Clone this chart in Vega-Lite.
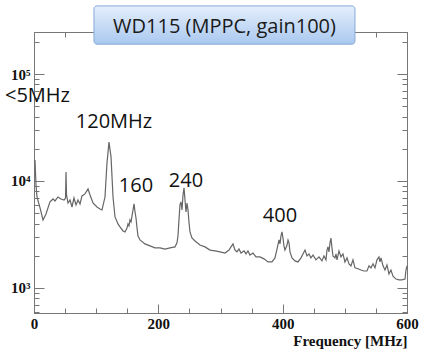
{
  "$schema": "https://vega.github.io/schema/vega-lite/v6.json",
  "autosize": "none",
  "width": 373,
  "height": 281,
  "padding": {"left": 34, "top": 32, "right": 14, "bottom": 38},
  "background": "white",
  "config": {"view": {"stroke": "#777", "strokeWidth": 1}},
  "datasets": {
    "spectrum": [
      {"f": 1.6, "a": 15700}, {"f": 3.2, "a": 9180}, {"f": 4.8, "a": 7080}, {"f": 9.7, "a": 5600},
      {"f": 14.5, "a": 4320}, {"f": 19.3, "a": 4920}, {"f": 25.7, "a": 6370}, {"f": 30.6, "a": 6790},
      {"f": 33.8, "a": 6500}, {"f": 38.6, "a": 7080}, {"f": 43.4, "a": 6790}, {"f": 48.3, "a": 6640},
      {"f": 50.7, "a": 6930}, {"f": 51.5, "a": 12100}, {"f": 52.3, "a": 7400}, {"f": 54.7, "a": 6220},
      {"f": 57.9, "a": 6640}, {"f": 61.1, "a": 5710}, {"f": 64.3, "a": 6930}, {"f": 67.6, "a": 5970},
      {"f": 70.8, "a": 6640}, {"f": 74.0, "a": 6100}, {"f": 77.2, "a": 7240}, {"f": 82.0, "a": 7570},
      {"f": 86.9, "a": 8410}, {"f": 90.1, "a": 7400}, {"f": 94.9, "a": 6220}, {"f": 101.3, "a": 5710},
      {"f": 106.2, "a": 5470}, {"f": 109.4, "a": 5360}, {"f": 114.2, "a": 7080}, {"f": 117.4, "a": 14700},
      {"f": 120.6, "a": 23100}, {"f": 123.9, "a": 16800}, {"f": 127.1, "a": 7080}, {"f": 130.3, "a": 4610},
      {"f": 135.1, "a": 3970}, {"f": 138.3, "a": 3720}, {"f": 143.2, "a": 3410}, {"f": 146.4, "a": 3340},
      {"f": 149.6, "a": 3640}, {"f": 151.2, "a": 3970}, {"f": 152.8, "a": 3800}, {"f": 154.4, "a": 4330},
      {"f": 156.1, "a": 4140}, {"f": 159.3, "a": 5360}, {"f": 160.9, "a": 6100}, {"f": 162.5, "a": 5130},
      {"f": 164.1, "a": 4510}, {"f": 165.7, "a": 3640}, {"f": 167.3, "a": 3060}, {"f": 170.5, "a": 2810},
      {"f": 178.5, "a": 2580}, {"f": 186.6, "a": 2470}, {"f": 194.6, "a": 2370}, {"f": 202.7, "a": 2370},
      {"f": 210.7, "a": 2310}, {"f": 218.8, "a": 2370}, {"f": 226.8, "a": 2420}, {"f": 230.0, "a": 2640},
      {"f": 231.6, "a": 3060}, {"f": 233.2, "a": 4330}, {"f": 234.8, "a": 5970}, {"f": 236.4, "a": 6370},
      {"f": 238.1, "a": 5360}, {"f": 239.7, "a": 7400}, {"f": 241.3, "a": 8610}, {"f": 242.9, "a": 6640},
      {"f": 244.5, "a": 5130}, {"f": 246.1, "a": 6220}, {"f": 247.7, "a": 5360}, {"f": 249.3, "a": 4140},
      {"f": 250.9, "a": 3340}, {"f": 254.1, "a": 2930}, {"f": 259.0, "a": 2750}, {"f": 267.0, "a": 2520},
      {"f": 275.1, "a": 2420}, {"f": 283.1, "a": 2260}, {"f": 291.2, "a": 2220}, {"f": 299.2, "a": 2170},
      {"f": 307.2, "a": 2120}, {"f": 313.7, "a": 2260}, {"f": 316.9, "a": 2420}, {"f": 320.1, "a": 2580},
      {"f": 323.3, "a": 2260}, {"f": 326.5, "a": 2170}, {"f": 329.7, "a": 2310}, {"f": 333.0, "a": 2120},
      {"f": 337.8, "a": 2220}, {"f": 341.0, "a": 2080}, {"f": 344.2, "a": 2220}, {"f": 347.4, "a": 2030},
      {"f": 352.3, "a": 2120}, {"f": 357.1, "a": 1950}, {"f": 363.5, "a": 1950}, {"f": 370.0, "a": 1870},
      {"f": 376.4, "a": 1750}, {"f": 382.8, "a": 1750}, {"f": 387.6, "a": 1910}, {"f": 390.9, "a": 2310},
      {"f": 394.1, "a": 2810}, {"f": 395.7, "a": 2580}, {"f": 397.3, "a": 3060}, {"f": 398.9, "a": 3340},
      {"f": 400.5, "a": 2930}, {"f": 402.1, "a": 2470}, {"f": 403.7, "a": 2260}, {"f": 405.3, "a": 2370},
      {"f": 407.0, "a": 2520}, {"f": 408.6, "a": 2810}, {"f": 410.2, "a": 2640}, {"f": 411.8, "a": 2170},
      {"f": 415.0, "a": 1910}, {"f": 419.8, "a": 1790}, {"f": 424.6, "a": 1750}, {"f": 429.5, "a": 1910},
      {"f": 432.7, "a": 2080}, {"f": 435.9, "a": 2260}, {"f": 439.1, "a": 1990}, {"f": 442.3, "a": 2080},
      {"f": 445.5, "a": 1910}, {"f": 448.8, "a": 2030}, {"f": 453.6, "a": 1830}, {"f": 458.4, "a": 1950},
      {"f": 463.2, "a": 1790}, {"f": 466.4, "a": 1990}, {"f": 469.7, "a": 1830}, {"f": 471.3, "a": 2260},
      {"f": 472.9, "a": 2420}, {"f": 474.5, "a": 2170}, {"f": 476.1, "a": 2640}, {"f": 477.7, "a": 2930},
      {"f": 479.3, "a": 2370}, {"f": 480.9, "a": 1990}, {"f": 484.2, "a": 1910}, {"f": 485.8, "a": 2080},
      {"f": 487.4, "a": 1830}, {"f": 490.6, "a": 2220}, {"f": 493.8, "a": 1950}, {"f": 497.0, "a": 2080},
      {"f": 500.2, "a": 1750}, {"f": 503.5, "a": 1910}, {"f": 506.7, "a": 1680}, {"f": 509.9, "a": 1610},
      {"f": 513.1, "a": 1830}, {"f": 516.3, "a": 1540}, {"f": 521.2, "a": 1510}, {"f": 526.0, "a": 1470},
      {"f": 530.8, "a": 1440}, {"f": 535.6, "a": 1440}, {"f": 538.9, "a": 1610}, {"f": 542.1, "a": 1540},
      {"f": 545.3, "a": 1680}, {"f": 548.5, "a": 1540}, {"f": 551.7, "a": 1830}, {"f": 554.9, "a": 1950},
      {"f": 556.5, "a": 1750}, {"f": 558.2, "a": 1910}, {"f": 561.4, "a": 1610}, {"f": 564.6, "a": 1470},
      {"f": 567.8, "a": 1640}, {"f": 571.0, "a": 1350}, {"f": 574.2, "a": 1470}, {"f": 577.5, "a": 1290},
      {"f": 582.3, "a": 1210}, {"f": 587.1, "a": 1190}, {"f": 591.9, "a": 1190}, {"f": 596.8, "a": 1210},
      {"f": 598.4, "a": 1470}, {"f": 600, "a": 1610}
    ],
    "labels": [
      {"f": 5.6, "a": 62200, "t": "<5MHz"},
      {"f": 128.7, "a": 35600, "t": "120MHz"},
      {"f": 164, "a": 8980, "t": "160"},
      {"f": 244.5, "a": 10000, "t": "240"},
      {"f": 395.7, "a": 4710, "t": "400"}
    ],
    "box": [
      {"f1": 96.5, "f2": 516.3, "a1": 433000, "a2": 190000, "fc": 306.4, "ac": 278000, "t": "WD115 (MPPC, gain100)"}
    ]
  },
  "resolve": {"axis": {"x": "independent", "y": "independent"}},
  "layer": [
    {
      "data": {"name": "spectrum"},
      "mark": {"type": "line", "color": "#666", "strokeWidth": 1.2, "interpolate": "linear"},
      "encoding": {
        "x": {
          "field": "f", "type": "quantitative",
          "scale": {"domain": [0, 600], "nice": false, "zero": false},
          "axis": {
            "orient": "bottom",
            "values": [0, 50, 100, 150, 200, 250, 300, 350, 400, 450, 500, 550, 600],
            "labelExpr": "datum.value % 200 == 0 ? datum.value : ''",
            "tickSize": {"condition": {"test": "datum.value % 200 == 0", "value": -9}, "value": -5},
            "tickColor": "#777", "domainColor": "#777",
            "labelFont": "Liberation Serif", "labelFontWeight": "bold", "labelFontSize": 15, "labelColor": "#111",
            "labelPadding": 12, "labelFlush": false, "labelOverlap": false,
            "grid": false,
            "title": "Frequency [MHz]", "titleFont": "Liberation Serif", "titleFontWeight": "bold",
            "titleFontSize": 15, "titleColor": "#111", "titleAnchor": "end", "titlePadding": -2
          }
        },
        "y": {
          "field": "a", "type": "quantitative",
          "scale": {"type": "log", "domain": [583, 247000], "nice": false},
          "axis": {
            "orient": "left",
            "values": [600, 700, 800, 900, 1000, 2000, 3000, 4000, 5000, 6000, 7000, 8000, 9000, 10000, 20000, 30000, 40000, 50000, 60000, 70000, 80000, 90000, 100000, 200000],
            "labelExpr": "datum.value == 1000 ? '10³' : datum.value == 10000 ? '10⁴' : datum.value == 100000 ? '10⁵' : ''",
            "tickSize": {"condition": {"test": "datum.value == 1000 || datum.value == 10000 || datum.value == 100000", "value": -10}, "value": -5},
            "tickColor": "#777", "domainColor": "#777",
            "labelFont": "Liberation Serif", "labelFontWeight": "bold", "labelFontSize": 15, "labelColor": "#111",
            "labelPadding": 14, "labelOverlap": false, "labelFlush": false,
            "grid": false, "title": null
          }
        }
      }
    },
    {
      "data": {"name": "spectrum"},
      "mark": {"type": "line", "opacity": 0},
      "encoding": {
        "x": {
          "field": "f", "type": "quantitative",
          "axis": {
            "orient": "top",
            "values": [0, 50, 100, 150, 200, 250, 300, 350, 400, 450, 500, 550, 600],
            "labels": false,
            "tickSize": {"condition": {"test": "datum.value % 200 == 0", "value": -9}, "value": -5},
            "tickColor": "#777", "domainColor": "#777", "grid": false, "title": null
          }
        },
        "y": {
          "field": "a", "type": "quantitative",
          "axis": {
            "orient": "right",
            "values": [600, 700, 800, 900, 1000, 2000, 3000, 4000, 5000, 6000, 7000, 8000, 9000, 10000, 20000, 30000, 40000, 50000, 60000, 70000, 80000, 90000, 100000, 200000],
            "labels": false,
            "tickSize": {"condition": {"test": "datum.value == 1000 || datum.value == 10000 || datum.value == 100000", "value": -10}, "value": -5},
            "tickColor": "#777", "domainColor": "#777", "grid": false, "title": null
          }
        }
      }
    },
    {
      "data": {"name": "labels"},
      "mark": {"type": "text", "font": "Open Sans", "fontSize": 20, "color": "#111", "baseline": "middle", "align": "center"},
      "encoding": {
        "x": {"field": "f", "type": "quantitative", "axis": null},
        "y": {"field": "a", "type": "quantitative", "axis": null},
        "text": {"field": "t"}
      }
    },
    {
      "data": {"name": "box"},
      "mark": {
        "type": "rect", "cornerRadius": 3, "stroke": "#86a9d8", "strokeWidth": 1,
        "fill": {"gradient": "linear", "x1": 0, "y1": 0, "x2": 0, "y2": 1,
                 "stops": [{"offset": 0, "color": "#e5effc"}, {"offset": 1, "color": "#a9c8ef"}]}
      },
      "encoding": {
        "x": {"field": "f1", "type": "quantitative", "axis": null},
        "x2": {"field": "f2"},
        "y": {"field": "a1", "type": "quantitative", "axis": null},
        "y2": {"field": "a2"}
      }
    },
    {
      "data": {"name": "box"},
      "mark": {"type": "text", "font": "Open Sans", "fontSize": 20, "color": "#1a1a1a", "baseline": "middle", "align": "center"},
      "encoding": {
        "x": {"field": "fc", "type": "quantitative", "axis": null},
        "y": {"field": "ac", "type": "quantitative", "axis": null},
        "text": {"field": "t"}
      }
    }
  ]
}
